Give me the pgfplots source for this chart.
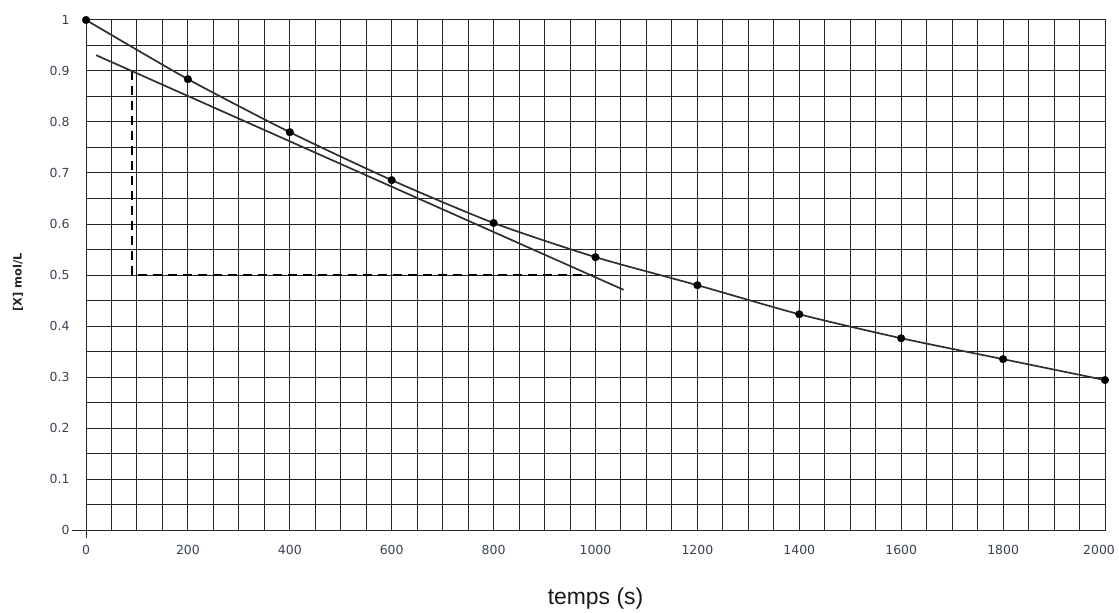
\documentclass[border=0pt]{standalone}
\usepackage{fontspec}
\setmainfont{DejaVu Sans}
\newfontfamily\arialf{Liberation Sans}
\usepackage{pgfplots}
\usepackage{pgfplotstable}
\pgfplotsset{compat=1.18}
\definecolor{ticklab}{HTML}{3A4252}
\definecolor{curvec}{HTML}{2E2E2E}
\pgfplotstableread{
t c
0 1.000
200 0.884
400 0.780
600 0.686
800 0.602
1000 0.535
1200 0.480
1400 0.423
1600 0.376
1800 0.335
2000 0.294
}\datatab
\begin{document}
\begin{tikzpicture}
\begin{axis}[
  name=ax,
  scale only axis,
  width=1019bp, height=510bp,
  xmin=0, xmax=2000, ymin=0, ymax=1,
  clip=false,
  xtick={0,200,...,2000},
  xticklabels={0,200,400,600,800,1000,1200,1400,1600,1800,\kern-6bp 2000\kern6bp},
  ytick={0,0.1,...,1},
  minor x tick num=3,
  minor y tick num=1,
  grid=both,
  major grid style={black!85, line width=1bp},
  minor grid style={black!85, line width=1bp},
  major tick length=0pt, minor tick length=0pt,
  axis line style={black!85, line width=1bp},
  /pgf/number format/assume math mode=true,
  /pgf/number format/1000 sep={},
  ticklabel style={font=\fontsize{12.5}{14}\selectfont, text=ticklab},
  yticklabel style={anchor=east, xshift=-13bp},
  xticklabel style={anchor=north, yshift=-12bp},
  xlabel={temps (s)},
  ylabel={[X] mol/L},
  xlabel style={font=\arialf\fontsize{23}{26}\selectfont, at={(axis description cs:0.5,-0.135)}, anchor=center, text=black!90},
  ylabel style={font=\bfseries\fontsize{11.5}{13}\selectfont, at={(axis description cs:-0.0667,0.486)}, anchor=center, text=black!85},
]
% extended axis ends at origin
\addplot[black!85, line width=1bp] coordinates {(-28,0) (0,0)};
\addplot[black!85, line width=1bp] coordinates {(0,0) (0,-0.016)};
% dashed construction lines
\addplot[black, line width=1.6bp, dash pattern=on 9bp off 6bp] coordinates {(90,0.9) (90,0.5) (995,0.5)};
% tangent line
\addplot[curvec, line width=1.7bp] coordinates {(20,0.931) (1055,0.471)};
% fitted curve
\addplot[curvec, line width=1.7bp, smooth, tension=0.4] table[x=t, y=c] {\datatab};
% data points
\addplot[only marks, mark=*, mark size=3.8bp, black] table[x=t, y=c] {\datatab};
\end{axis}
\pgfresetboundingbox
\path[use as bounding box] ([xshift=-86bp,yshift=-82bp]ax.south west) rectangle ([xshift=14bp,yshift=20bp]ax.north east);
\end{tikzpicture}
\end{document}
